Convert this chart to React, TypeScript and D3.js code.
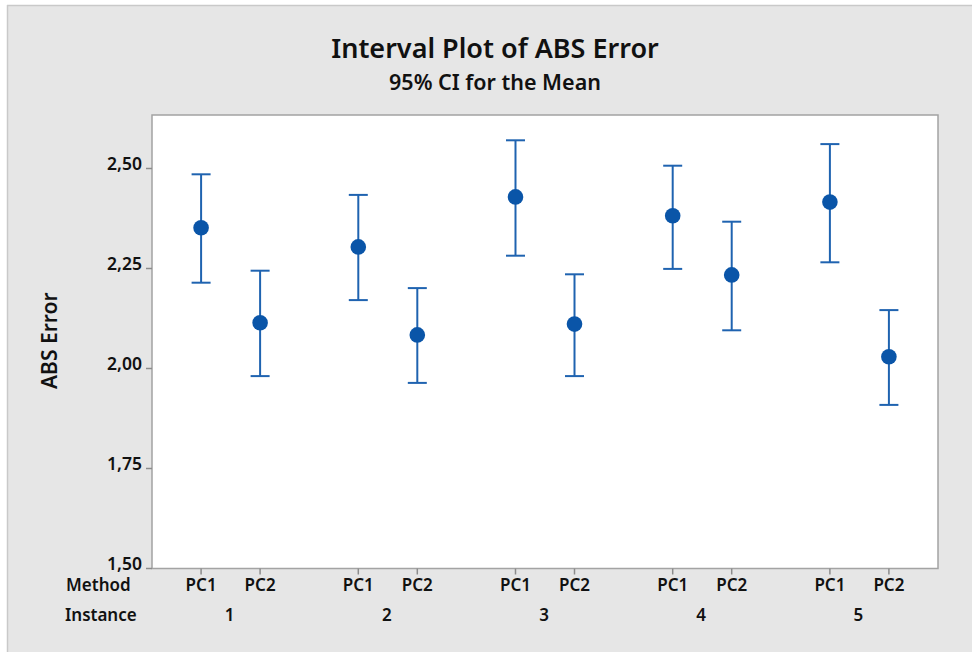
import React from "react";
import * as d3 from "d3";

// Interval plot data: 95% CI for the mean of ABS Error, by instance and method
const instances = ["1", "2", "3", "4", "5"];
const methods = ["PC1", "PC2"];
const pc1Mean = [2.352, 2.304, 2.429, 2.382, 2.416];
const pc1Lower = [2.2145, 2.171, 2.282, 2.249, 2.2655];
const pc1Upper = [2.4855, 2.434, 2.5705, 2.507, 2.561];
const pc2Mean = [2.1145, 2.084, 2.111, 2.234, 2.0295];
const pc2Lower = [1.981, 1.964, 1.981, 2.0955, 1.909];
const pc2Upper = [2.2445, 2.201, 2.2355, 2.367, 2.146];
const yTicks = [1.5, 1.75, 2.0, 2.25, 2.5];

const W = 972;
const H = 652;
const FONT = "'Noto Sans', 'Open Sans', sans-serif";
const BLUE_LINE = "#1f63b0";
const BLUE_DOT = "#0a55a8";

const locale = d3.formatLocale({
  decimal: ",",
  thousands: ".",
  grouping: [3],
  currency: ["", ""],
});
const fmt = locale.format(".2f");

export default function App() {
  const left = 152;
  const right = 938;
  const bottom = 568.5;

  const y = d3.scaleLinear().domain([1.5, 2.5]).range([bottom, 168.5]);
  const yMax = y.invert(115);
  const top = y(yMax);

  const xOuter = d3.scaleBand<string>().domain(instances).range([left, right]).padding(0);
  const xInner = d3
    .scalePoint<string>()
    .domain(methods)
    .range([0, xOuter.bandwidth()])
    .padding(0.832);

  const rows = instances.flatMap((inst, i) => [
    { inst, method: "PC1", mean: pc1Mean[i], lo: pc1Lower[i], hi: pc1Upper[i] },
    { inst, method: "PC2", mean: pc2Mean[i], lo: pc2Lower[i], hi: pc2Upper[i] },
  ]);
  const xPos = (inst: string, m: string) => (xOuter(inst) ?? 0) + (xInner(m) ?? 0);

  const capHalf = 9.5;
  const titleX = 495;
  const labelSize = 17;

  return (
    <svg
      width={W}
      height={H}
      viewBox={`0 0 ${W} ${H}`}
      style={{ position: "absolute", left: 0, top: 0, display: "block" }}
      fontFamily={FONT}
    >
      <rect x={0} y={0} width={W} height={H} fill="#ffffff" />
      <rect x={7} y={5} width={W - 7} height={H - 5} fill="#e6e6e6" />
      <line x1={7} y1={5.5} x2={W} y2={5.5} stroke="#c9c9c9" strokeWidth={1.5} />
      <line x1={7.5} y1={5} x2={7.5} y2={H} stroke="#c9c9c9" strokeWidth={1.5} />

      <text x={titleX} y={58} textAnchor="middle" fontSize={27} fontWeight={600} fill="#111">
        Interval Plot of ABS Error
      </text>
      <text x={titleX} y={90} textAnchor="middle" fontSize={21.5} fontWeight={600} fill="#111">
        95% CI for the Mean
      </text>

      <rect
        x={left}
        y={top}
        width={right - left}
        height={bottom - top}
        fill="#ffffff"
        stroke="#a3a3a3"
        strokeWidth={1.5}
      />

      {/* y axis */}
      {yTicks.map((t) => (
        <g key={t}>
          <line x1={left - 6} x2={left} y1={y(t)} y2={y(t)} stroke="#8c8c8c" strokeWidth={1.5} />
          <text
            x={left - 10}
            y={y(t) + 1}
            textAnchor="end"
            fontSize={17.5}
            fontWeight={600}
            fill="#111"
          >
            {fmt(t)}
          </text>
        </g>
      ))}
      <text
        transform={`translate(57, ${(y(1.5) + top) / 2 - 1}) rotate(-90)`}
        textAnchor="middle"
        fontSize={21}
        fontWeight={600}
        fill="#111"
      >
        ABS Error
      </text>

      {/* x axis: method ticks and instance groups */}
      {rows.map((r) => (
        <g key={r.inst + r.method}>
          <line
            x1={xPos(r.inst, r.method)}
            x2={xPos(r.inst, r.method)}
            y1={bottom}
            y2={bottom + 6}
            stroke="#8c8c8c"
            strokeWidth={1.5}
          />
          <text
            x={xPos(r.inst, r.method)}
            y={591}
            textAnchor="middle"
            fontSize={labelSize}
            fontWeight={600}
            fill="#111"
          >
            {r.method}
          </text>
        </g>
      ))}
      {instances.map((inst) => (
        <text
          key={inst}
          x={(xOuter(inst) ?? 0) + xOuter.bandwidth() / 2 - 1}
          y={621}
          textAnchor="middle"
          fontSize={labelSize}
          fontWeight={600}
          fill="#111"
        >
          {inst}
        </text>
      ))}
      <text x={66} y={591} fontSize={labelSize} fontWeight={600} fill="#111">
        Method
      </text>
      <text x={65} y={621} fontSize={labelSize} fontWeight={600} fill="#111">
        Instance
      </text>

      {/* confidence intervals and means */}
      {rows.map((r) => {
        const cx = xPos(r.inst, r.method);
        return (
          <g key={"ci" + r.inst + r.method}>
            <line x1={cx} x2={cx} y1={y(r.hi)} y2={y(r.lo)} stroke={BLUE_LINE} strokeWidth={2} />
            <line
              x1={cx - capHalf}
              x2={cx + capHalf}
              y1={y(r.hi)}
              y2={y(r.hi)}
              stroke={BLUE_LINE}
              strokeWidth={2}
            />
            <line
              x1={cx - capHalf}
              x2={cx + capHalf}
              y1={y(r.lo)}
              y2={y(r.lo)}
              stroke={BLUE_LINE}
              strokeWidth={2}
            />
            <circle cx={cx} cy={y(r.mean)} r={7.8} fill={BLUE_DOT} />
          </g>
        );
      })}
    </svg>
  );
}
